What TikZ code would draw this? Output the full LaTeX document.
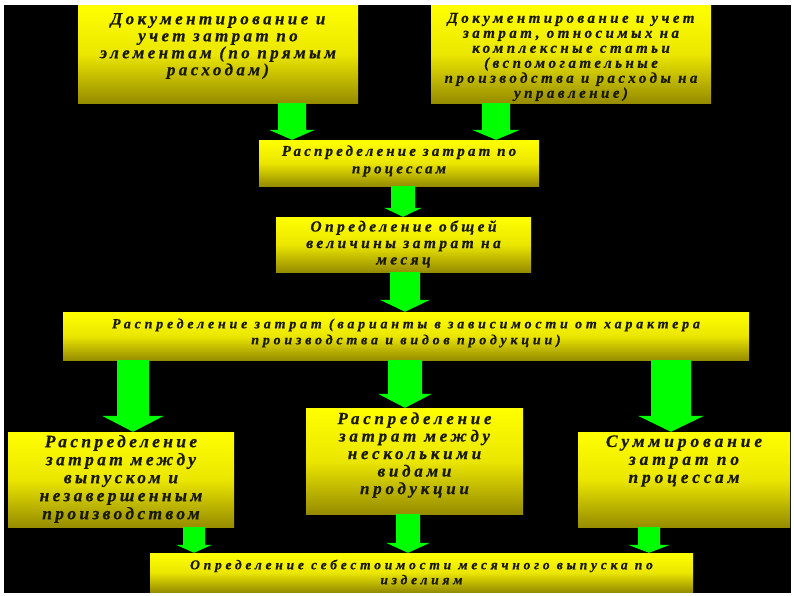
\documentclass[tikz,border=0pt]{standalone}
\usepackage{fontspec}
\usetikzlibrary{calc}
\setmainfont{Liberation Serif}
\newfontfamily\boxfont[FakeBold=0.6]{Liberation Serif}
\definecolor{ylw}{RGB}{255,255,0}
\definecolor{olv}{RGB}{150,140,0}
\definecolor{grn}{RGB}{0,255,0}
\definecolor{txtc}{RGB}{25,25,0}
\newcommand\bxf[3]{\boxfont\bfseries\itshape\addfontfeatures{LetterSpace=#3}\fontsize{#1}{#2}\selectfont}
\tikzset{
  box/.style={rectangle, inner sep=0pt, top color=ylw, bottom color=olv, middle color={rgb,255:red,235;green,230;blue,0}},
  txt/.style={align=center, text=txtc, inner sep=0pt},
  arrowfill/.style={fill=grn}
}
\newcommand\greenarrow[6]{%
  \fill[arrowfill] let \p1=(#1,0 |- #2.south), \p2=(#1,0 |- #3.north) in
    (\x1-#4pt,\y1) -- (\x1+#4pt,\y1) -- (\x1+#4pt,\y2+#6pt) -- (\x1+#5pt,\y2+#6pt)
    -- (\x1,\y2) -- (\x1-#5pt,\y2+#6pt) -- (\x1-#4pt,\y2+#6pt) -- cycle;}
\begin{document}
\begin{tikzpicture}[x=1pt,y=-1pt]
\useasboundingbox (0,0) rectangle (794,595);
\fill[white] (0,0) rectangle (794,595);
\fill[black] (4,5) rectangle (791,593);
% boxes
\node[box, minimum width=280pt, minimum height=98pt] (b1) at (218,54) {};
\node[box, minimum width=280pt, minimum height=98pt] (b2) at (571,54) {};
\node[box, minimum width=280pt, minimum height=46pt] (b3) at (399,163) {};
\node[box, minimum width=255pt, minimum height=55pt] (b4) at (403.5,244.5) {};
\node[box, minimum width=686pt, minimum height=48pt] (b5) at (406,336) {};
\node[box, minimum width=226pt, minimum height=95pt] (b6) at (121,479.5) {};
\node[box, minimum width=217pt, minimum height=106pt] (b7) at (414.5,461) {};
\node[box, minimum width=212pt, minimum height=95pt] (b8) at (684,479.5) {};
\node[box, minimum width=543pt, minimum height=39pt] (b9) at (421.5,572.5) {};
% texts
\node[txt, font=\bxf{17}{17}{20}] (t1) at (218,46)
  {Документирование и\\учет затрат по\\элементам (по прямым\\расходам)};
\node[txt, font=\bxf{15}{15}{23}] (t2) at (571,57)
  {Документирование и учет\\затрат, относимых на\\комплексные статьи\\(вспомогательные\\производства и расходы на\\управление)};
\node[txt, font=\bxf{15}{17.5}{21}] (t3) at (399,161)
  {Распределение затрат по\\процессам};
\node[txt, font=\bxf{15.5}{16.5}{22}] (t4) at (403.5,244)
  {Определение общей\\величины затрат на\\месяц};
\node[txt, font=\bxf{14}{16}{27}] (t5) at (406,333)
  {Распределение затрат (варианты в зависимости от характера\\производства и видов продукции)};
\node[txt, font=\bxf{17.5}{18}{19}] (t6) at (121,479)
  {Распределение\\затрат между\\выпуском и\\незавершенным\\производством};
\node[txt, font=\bxf{17}{17.5}{22}] (t7) at (414.5,455)
  {Распределение\\затрат между\\несколькими\\видами\\продукции};
\node[txt, font=\bxf{17.5}{18}{22}] (t8) at (684,461)
  {Суммирование\\затрат по\\процессам};
\node[txt, font=\bxf{13.5}{15}{28}] (t9) at (421.5,572)
  {Определение себестоимости месячного выпуска по\\изделиям};
% arrows
\greenarrow{292}{b1}{b3}{14}{23}{10}
\greenarrow{496}{b2}{b3}{14}{24}{10}
\greenarrow{403}{b3}{b4}{12}{19}{9}
\greenarrow{405}{b4}{b5}{15}{25}{12}
\greenarrow{133}{b5}{b6}{16}{31}{16}
\greenarrow{405}{b5}{b7}{17}{27}{14}
\greenarrow{671}{b5}{b8}{20}{33}{16}
\greenarrow{194}{b6}{b9}{11}{18}{8}
\greenarrow{408}{b7}{b9}{12}{22}{10}
\greenarrow{649}{b8}{b9}{11}{21}{8}
\end{tikzpicture}
\end{document}
